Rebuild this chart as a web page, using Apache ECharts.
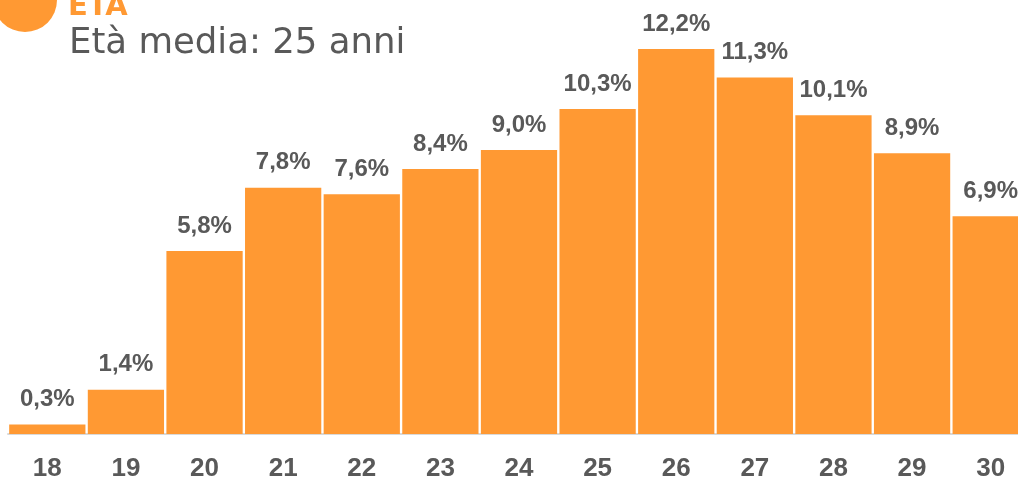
<!DOCTYPE html>
<html>
<head>
<meta charset="utf-8">
<script src="https://cdn.jsdelivr.net/npm/echarts@6/dist/echarts.min.js"></script>
<style>
  html, body { margin: 0; padding: 0; background: #fff; overflow: hidden; }
  #main { width: 1030px; height: 479px; }
</style>
</head>
<body>
<div id="main"></div>
<script>
// età e percentuali
let ages = ['18', '19', '20', '21', '22', '23', '24', '25', '26', '27', '28', '29', '30']
let perc = [0.3, 1.4, 5.8, 7.8, 7.6, 8.4, 9.0, 10.3, 12.2, 11.3, 10.1, 8.9, 6.9]

let orange = '#FF9933'
let grey = '#595959'
let font = 'Liberation Sans'

var myChart = echarts.init(document.getElementById('main'))
var option = {
    animation: false,
    grid: {
        left: 8,
        right: 0,
        top: 49,
        bottom: 45,
        outerBoundsMode: 'none',
    },
    graphic: [
        {
            type: 'circle',
            shape: { cx: 25, cy: 0, r: 32 },
            style: { fill: orange }
        },
        {
            type: 'text',
            left: 68,
            top: -7,
            style: {
                text: 'ETÀ',
                fill: orange,
                font: 'bold 29px "DejaVu Sans"'
            }
        },
        {
            type: 'text',
            left: 69,
            top: 26,
            style: {
                text: 'Età media: 25 anni',
                fill: grey,
                font: '35.5px "DejaVu Sans"'
            }
        }
    ],
    xAxis: {
        type: 'category',
        data: ages,
        axisTick: { show: false },
        axisLine: { lineStyle: { color: '#d9d9d9', width: 2 } },
        axisLabel: {
            color: grey,
            fontFamily: font,
            fontWeight: 'bold',
            fontSize: 26,
            margin: 22,
        }
    },
    yAxis: {
        type: 'value',
        min: 0,
        max: 12.2,
        show: false,
        splitLine: { show: false }
    },
    series: [{
        type: 'bar',
        data: perc,
        barCategoryGap: '3%',
        itemStyle: { color: orange },
        label: {
            show: true,
            position: 'top',
            distance: 13,
            color: grey,
            fontFamily: font,
            fontWeight: 'bold',
            fontSize: 24,
            formatter: function (p) {
                return p.value.toFixed(1).replace('.', ',') + '%'
            }
        }
    }]
}
myChart.setOption(option)
</script>
</body>
</html>
